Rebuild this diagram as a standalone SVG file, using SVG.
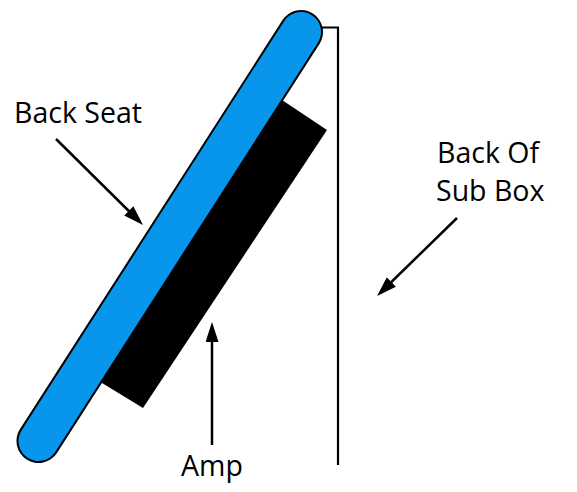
<svg xmlns="http://www.w3.org/2000/svg" width="577" height="492" viewBox="0 0 577 492">
  <style>
    .lbl { font-family: "Open Sans", "Liberation Sans", sans-serif; font-size: 28.5px; fill: #000; }
    .conn { stroke: #000; stroke-width: 2.5; fill: none; marker-end: url(#ah); }
  </style>
  <defs>
    <marker id="ah" markerUnits="userSpaceOnUse" markerWidth="22" markerHeight="15" refX="10" refY="6.5" orient="auto">
      <path d="M0,0 L20,6.5 L0,13 Z" fill="#000"/>
    </marker>
  </defs>
  <rect width="577" height="492" fill="#fff"/>
  <g id="sub-box-back">
    <path d="M322 27.5 H338 V465" fill="none" stroke="#000" stroke-width="2.2"/>
  </g>
  <g id="amp">
    <polygon points="327,130 143,408 81.5,370.5 264,88" fill="#000"/>
  </g>
  <g id="back-seat">
    <line x1="38.5" y1="441" x2="301" y2="32" stroke="#000" stroke-width="44" stroke-linecap="round"/>
    <line x1="38.5" y1="441" x2="301" y2="32" stroke="#0896ec" stroke-width="40" stroke-linecap="round"/>
  </g>
  <g id="labels">
    <text class="lbl" x="14" y="122.7">Back Seat</text>
    <text class="lbl" x="437" y="162.7">Back Of</text>
    <text class="lbl" x="436" y="200.7">Sub Box</text>
    <text class="lbl" x="181" y="475.7">Amp</text>
  </g>
  <g id="connectors">
    <line class="conn" x1="56" y1="139" x2="135.9" y2="218"/>
    <line class="conn" x1="457" y1="218" x2="384.2" y2="289"/>
    <line class="conn" x1="212" y1="445" x2="212" y2="332"/>
  </g>
</svg>
